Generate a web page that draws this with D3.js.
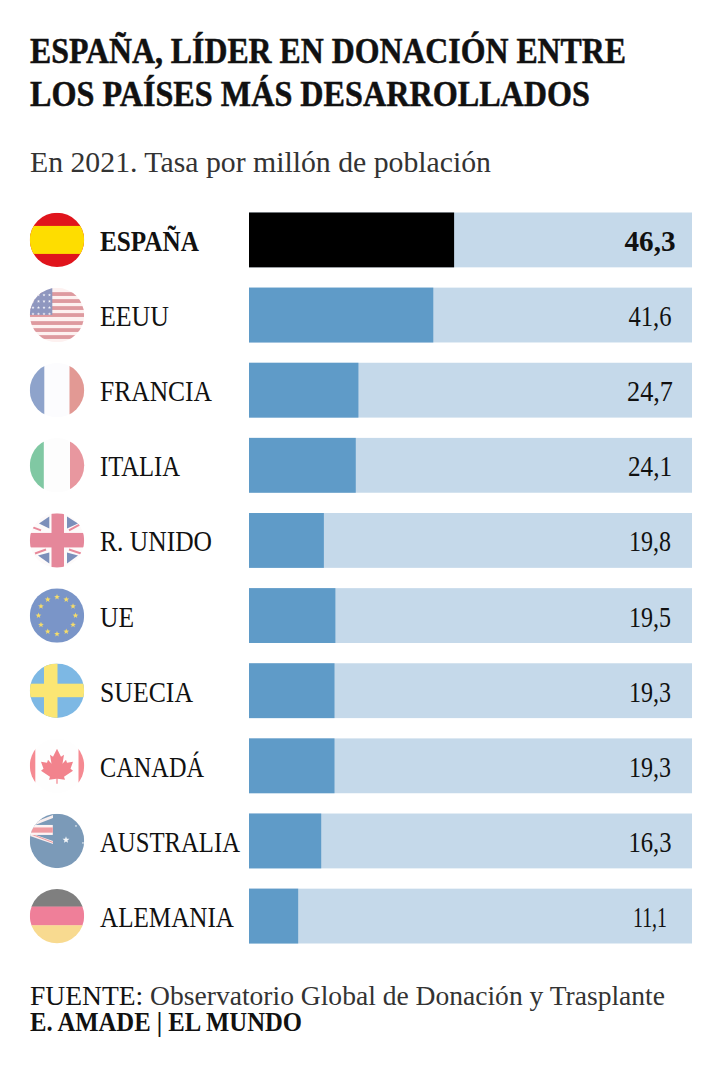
<!DOCTYPE html>
<html><head><meta charset="utf-8">
<script src="https://cdn.jsdelivr.net/npm/d3@7"></script>
<style>html,body{margin:0;padding:0;background:#fff}svg{display:block}text{font-family:"Liberation Serif",serif;fill:#111}</style>
</head><body><div id="c"></div>
<script>
const countries=["ESPAÑA","EEUU","FRANCIA","ITALIA","R. UNIDO","UE","SUECIA","CANADÁ","AUSTRALIA","ALEMANIA"];
const flags=["es","us","fr","it","uk","eu","se","ca","au","de"];
const barValues=[46.3,41.6,24.7,24.1,16.9,19.5,19.3,19.3,16.3,11.1];
const valueLabels=["46,3","41,6","24,7","24,1","19,8","19,5","19,3","19,3","16,3","11,1"];
const domainMax=100;
const titleLines=["ESPAÑA, LÍDER EN DONACIÓN ENTRE","LOS PAÍSES MÁS DESARROLLADOS"];
const subtitle="En 2021. Tasa por millón de población";
const source="Observatorio Global de Donación y Trasplante";

const W=720,H=1070;
const svg=d3.select("#c").append("svg").attr("width",W).attr("height",H);
const x=d3.scaleLinear().domain([0,domainMax]).range([249,692]);
const y=d3.scaleBand().domain(countries).range([212.5,943.5]).paddingInner(0.27).paddingOuter(0);
const fit=(sel,w)=>sel.attr("textLength",w).attr("lengthAdjust","spacingAndGlyphs");

svg.selectAll(".t").data(titleLines).join("text").attr("class","t").attr("x",30).attr("y",(d,i)=>[63,106][i])
  .attr("font-size",36.5).attr("font-weight",700).attr("stroke","#111").attr("stroke-width",0.5).text(d=>d)
  .each(function(d,i){fit(d3.select(this),[596,560][i])});
fit(svg.append("text").attr("x",30).attr("y",172).attr("font-size",29).style("fill","#333").text(subtitle),461);

const g=svg.selectAll(".row").data(countries).join("g").attr("class","row");
g.append("rect").attr("x",x(0)).attr("y",d=>y(d)).attr("width",x(domainMax)-x(0)).attr("height",y.bandwidth()).attr("fill","#c5d9ea");
g.append("rect").attr("x",x(0)).attr("y",d=>y(d)).attr("height",y.bandwidth())
  .attr("width",(d,i)=>x(barValues[i])-x(0)).attr("fill",(d,i)=>i===0?"#000":"#5f9bc8");
const labelW=[99,69,112,80,112,34,93,104,140,134];
const valueW=[51,43,46,44,42,42,42,42,43,34];
g.append("text").attr("x",100).attr("y",d=>y(d)+y.bandwidth()/2+11).attr("font-size",29)
  .attr("font-weight",(d,i)=>i===0?700:400).text(d=>d).each(function(d,i){fit(d3.select(this),labelW[i])});
g.append("text").attr("x",650).attr("y",d=>y(d)+y.bandwidth()/2+11).attr("text-anchor","middle").attr("font-size",29)
  .attr("font-weight",(d,i)=>i===0?700:400).text((d,i)=>valueLabels[i]).each(function(d,i){fit(d3.select(this),valueW[i])});

// flags
const R=27.2, cx=57;
svg.append("defs").append("clipPath").attr("id","disc").append("circle").attr("r",R);
const star=(s,cxs,cys,r,fill)=>{const p=d3.range(10).map(k=>{const a=-Math.PI/2+k*Math.PI/5,q=k%2?r*0.42:r;return [cxs+q*Math.cos(a),cys+q*Math.sin(a)]});
  s.append("polygon").attr("points",p.join(" ")).attr("fill",fill)};
const band=(s,x0,y0,w,h,f)=>s.append("rect").attr("x",x0).attr("y",y0).attr("width",w).attr("height",h).attr("fill",f);
const line=(s,x1,y1,x2,y2,c,w)=>s.append("line").attr("x1",x1).attr("y1",y1).attr("x2",x2).attr("y2",y2).attr("stroke",c).attr("stroke-width",w);
const draw={
 es(s){band(s,-R,-R,2*R,2*R,"#e0141c");band(s,-R,-14,2*R,28,"#fedd00")},
 us(s){band(s,-R,-R,2*R,2*R,"#fdf1f0");[-21,-14,-7,0,8,15,22].forEach(c=>band(s,-R,c-1.9,2*R,3.8,"#de9a9f"));band(s,-R,-R,22.5,27,"#8f97bf");
   d3.range(4).forEach(r=>d3.range(4).forEach(c=>star(s,-24+c*5.5,-20+r*6.3,1.6,"#f3f3f8")))},
 fr(s){band(s,-R,-R,2*R,2*R,"#fcfcfe");band(s,-R,-R,14.5,2*R,"#8ea3cb");band(s,12.5,-R,15,2*R,"#e29994")},
 it(s){band(s,-R,-R,2*R,2*R,"#fdfdfd");band(s,-R,-R,14,2*R,"#80c8a3");band(s,13,-R,15,2*R,"#e8979f")},
 uk(s){band(s,-R,-R,2*R,2*R,"#fdfafa");
   ["-18,-17 -7.7,-24 -7.7,-12","10,-24 10,-12 21,-17","-19,15 -7.7,23 -7.7,12","10,12 10,23 21,15"].forEach(p=>s.append("polygon").attr("points",p).attr("fill","#7c8fba"));
   line(s,-24,-13,-16,-10,"#e8899a",2);line(s,12,-10,23,-16,"#e8899a",2);line(s,-22,13,-11,9,"#e8899a",2);line(s,12,9,24,13,"#e8899a",2);
   band(s,-R,-7.5,2*R,14.5,"#e5879a");band(s,-5.5,-R,12.5,2*R,"#e5879a")},
 eu(s){band(s,-R,-R,2*R,2*R,"#7a95c8");d3.range(12).forEach(k=>{const a=k*Math.PI/6;star(s,18.5*Math.cos(a),18.5*Math.sin(a),3,"#f5dc6a")})},
 se(s){band(s,-R,-R,2*R,2*R,"#7db8e4");band(s,-R,-7,2*R,13.5,"#fbe673");band(s,-13,-R,13.5,2*R,"#fbe673")},
 ca(s){band(s,-R,-R,2*R,2*R,"#fefefe");band(s,-R,-R,5.5,2*R,"#f58a92");band(s,21.5,-R,6,2*R,"#f58a92");
   s.append("polygon").attr("fill","#f2838d").attr("points","0,-17 -4,-9 -7,-11 -5.5,-2 -9,-6 -10,-3 -16,-4 -13.5,3 -16,5 -7,11 -8,14 -0.6,13 -0.6,18 0.6,18 0.6,13 8,14 7,11 16,5 13.5,3 16,-4 10,-3 9,-6 5.5,-2 7,-11 4,-9")},
 au(s){band(s,-R,-R,2*R,2*R,"#7b9ab8");
   s.append("polygon").attr("fill","#f8eeee").attr("points","-4,-26 -4,-23 -27,-14 -27,-17");
   s.append("polygon").attr("fill","#f8eeee").attr("points","-4,0 -4,3 -27,-5 -27,-8");
   line(s,-25,-6.5,-4,1.5,"#eb9a9f",1);
   band(s,-R,-16,23,10,"#fdf3f3");band(s,-R,-13.5,23,5.2,"#ef9ba1");star(s,9,-1,3.6,"#f2f5f8");
   star(s,19,-15,1.3,"#f2f5f8");star(s,26,2,1.3,"#f2f5f8")},
 de(s){band(s,-R,-R,2*R,18,"#7f7f7f");band(s,-R,-9.5,2*R,19,"#ef7f99");band(s,-R,9.2,2*R,19,"#f8da90")}
};
g.each(function(d,i){const s=d3.select(this).append("g").attr("transform",`translate(${cx},${y(d)+y.bandwidth()/2})`).attr("clip-path","url(#disc)");draw[flags[i]](s)});

const f=svg.append("text").attr("x",30).attr("y",1005).attr("font-size",27);
f.append("tspan").text("FUENTE: ").style("fill","#111");
f.append("tspan").style("fill","#333").text(source);
fit(f,635);
fit(svg.append("text").attr("x",30).attr("y",1031).attr("font-size",27).attr("font-weight",700).text("E. AMADE | EL MUNDO"),272);
</script></body></html>
